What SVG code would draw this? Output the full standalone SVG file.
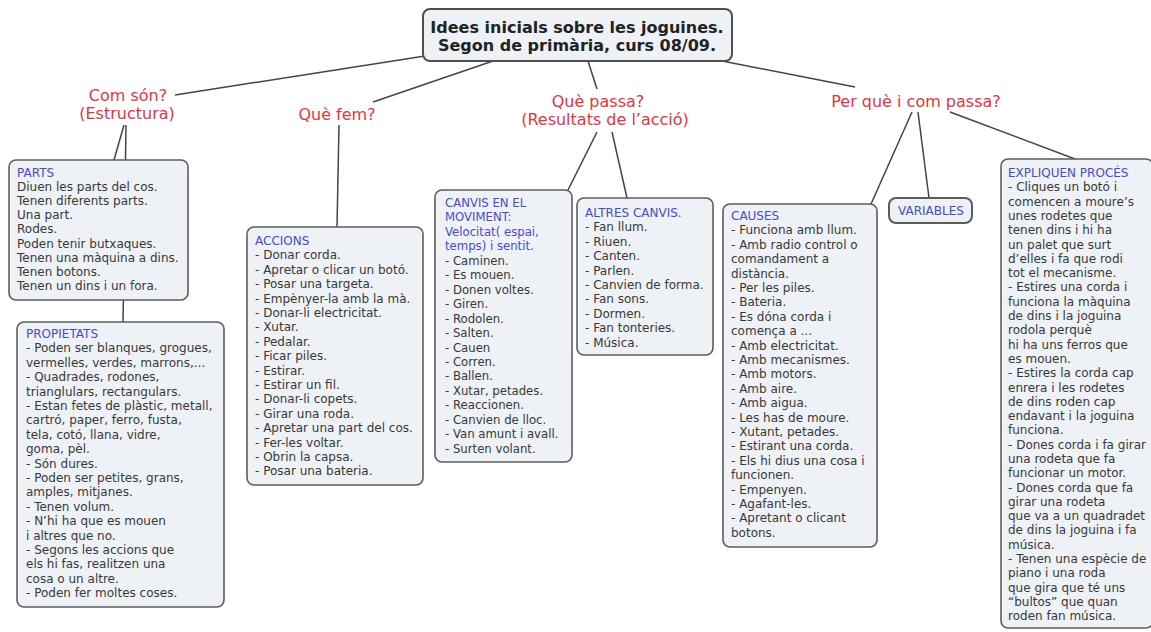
<svg xmlns="http://www.w3.org/2000/svg" width="1151" height="632" viewBox="0 0 1151 632">
<style>
.bg{fill:#ffffff}
.box{fill:#eef2f6;stroke:#5c5c5c;stroke-width:1.6}
.root{fill:#eef2f6;stroke:#505050;stroke-width:2}
.t{font-family:"DejaVu Sans",Verdana,sans-serif;font-size:12px;fill:#383838}
.h{fill:#4a4ac8}
.lab{font-family:"DejaVu Sans",Verdana,sans-serif;font-size:16px;fill:#e2353f;text-anchor:middle}
.rt{font-family:"DejaVu Sans",Verdana,sans-serif;font-size:16px;font-weight:bold;fill:#222222;text-anchor:middle}
.c{stroke:#444444;stroke-width:1.5;fill:none}
</style>
<rect class="bg" x="0" y="0" width="1151" height="632"/>
<g id="connectors">
<line class="c" x1="425" y1="56" x2="175" y2="95"/>
<line class="c" x1="493" y1="61" x2="373" y2="102"/>
<line class="c" x1="588" y1="61" x2="597" y2="89"/>
<line class="c" x1="722" y1="61" x2="855" y2="87"/>
<line class="c" x1="124" y1="125" x2="114" y2="160"/>
<line class="c" x1="126" y1="125" x2="123" y2="322"/>
<line class="c" x1="339" y1="125" x2="337" y2="227"/>
<line class="c" x1="597" y1="132" x2="568" y2="190"/>
<line class="c" x1="612" y1="132" x2="627" y2="198"/>
<line class="c" x1="912" y1="112" x2="871" y2="204"/>
<line class="c" x1="918" y1="112" x2="929" y2="198"/>
<line class="c" x1="950" y1="112" x2="1075" y2="159"/>
</g>
<g id="root">
<rect class="root" x="423" y="9" width="309" height="52" rx="7"/>
<text class="rt" x="577" y="33">Idees inicials sobre les joguines.</text>
<text class="rt" x="577" y="51">Segon de primària, curs 08/09.</text>
</g>
<g id="com-son">
<text class="lab" x="128" y="101">Com són?</text>
<text class="lab" x="127" y="119">(Estructura)</text>
</g>
<g id="que-fem">
<text class="lab" x="337" y="120">Què fem?</text>
</g>
<g id="que-passa">
<text class="lab" x="598" y="107">Què passa?</text>
<text class="lab" x="605" y="125">(Resultats de l’acció)</text>
</g>
<g id="per-que">
<text class="lab" x="916" y="107">Per què i com passa?</text>
</g>
<g id="parts">
<rect class="box" x="9" y="160" width="179" height="140" rx="7"/>
<text class="t" x="17" y="177"><tspan class="h">PARTS</tspan><tspan x="17" dy="14.1">Diuen les parts del cos.</tspan><tspan x="17" dy="14.1">Tenen diferents parts.</tspan><tspan x="17" dy="14.1">Una part.</tspan><tspan x="17" dy="14.1">Rodes.</tspan><tspan x="17" dy="14.1">Poden tenir butxaques.</tspan><tspan x="17" dy="14.1">Tenen una màquina a dins.</tspan><tspan x="17" dy="14.1">Tenen botons.</tspan><tspan x="17" dy="14.1">Tenen un dins i un fora.</tspan></text>
</g>
<g id="propietats">
<rect class="box" x="17" y="322" width="207" height="285" rx="7"/>
<text class="t" x="26" y="338"><tspan class="h">PROPIETATS</tspan><tspan x="26" dy="14.4">- Poden ser blanques, grogues,</tspan><tspan x="26" dy="14.4">vermelles, verdes, marrons,...</tspan><tspan x="26" dy="14.4">- Quadrades, rodones,</tspan><tspan x="26" dy="14.4">trianglulars, rectangulars.</tspan><tspan x="26" dy="14.4">- Estan fetes de plàstic, metall,</tspan><tspan x="26" dy="14.4">cartró, paper, ferro, fusta,</tspan><tspan x="26" dy="14.4">tela, cotó, llana, vidre,</tspan><tspan x="26" dy="14.4">goma, pèl.</tspan><tspan x="26" dy="14.4">- Són dures.</tspan><tspan x="26" dy="14.4">- Poden ser petites, grans,</tspan><tspan x="26" dy="14.4">amples, mitjanes.</tspan><tspan x="26" dy="14.4">- Tenen volum.</tspan><tspan x="26" dy="14.4">- N’hi ha que es mouen</tspan><tspan x="26" dy="14.4">i altres que no.</tspan><tspan x="26" dy="14.4">- Segons les accions que</tspan><tspan x="26" dy="14.4">els hi fas, realitzen una</tspan><tspan x="26" dy="14.4">cosa o un altre.</tspan><tspan x="26" dy="14.4">- Poden fer moltes coses.</tspan></text>
</g>
<g id="accions">
<rect class="box" x="247" y="227" width="176" height="258" rx="7"/>
<text class="t" x="255" y="245"><tspan class="h">ACCIONS</tspan><tspan x="255" dy="14.4">- Donar corda.</tspan><tspan x="255" dy="14.4">- Apretar o clicar un botó.</tspan><tspan x="255" dy="14.4">- Posar una targeta.</tspan><tspan x="255" dy="14.4">- Empènyer-la amb la mà.</tspan><tspan x="255" dy="14.4">- Donar-li electricitat.</tspan><tspan x="255" dy="14.4">- Xutar.</tspan><tspan x="255" dy="14.4">- Pedalar.</tspan><tspan x="255" dy="14.4">- Ficar piles.</tspan><tspan x="255" dy="14.4">- Estirar.</tspan><tspan x="255" dy="14.4">- Estirar un fil.</tspan><tspan x="255" dy="14.4">- Donar-li copets.</tspan><tspan x="255" dy="14.4">- Girar una roda.</tspan><tspan x="255" dy="14.4">- Apretar una part del cos.</tspan><tspan x="255" dy="14.4">- Fer-les voltar.</tspan><tspan x="255" dy="14.4">- Obrin la capsa.</tspan><tspan x="255" dy="14.4">- Posar una bateria.</tspan></text>
</g>
<g id="canvis-moviment">
<rect class="box" x="435" y="190" width="137" height="272" rx="7"/>
<text class="t" x="445" y="207" style="font-size:11.7px"><tspan class="h">CANVIS EN EL</tspan><tspan class="h" x="445" dy="14.45">MOVIMENT:</tspan><tspan class="h" x="445" dy="14.45">Velocitat( espai,</tspan><tspan class="h" x="445" dy="14.45">temps) i sentit.</tspan><tspan x="445" dy="14.45">- Caminen.</tspan><tspan x="445" dy="14.45">- Es mouen.</tspan><tspan x="445" dy="14.45">- Donen voltes.</tspan><tspan x="445" dy="14.45">- Giren.</tspan><tspan x="445" dy="14.45">- Rodolen.</tspan><tspan x="445" dy="14.45">- Salten.</tspan><tspan x="445" dy="14.45">- Cauen</tspan><tspan x="445" dy="14.45">- Corren.</tspan><tspan x="445" dy="14.45">- Ballen.</tspan><tspan x="445" dy="14.45">- Xutar, petades.</tspan><tspan x="445" dy="14.45">- Reaccionen.</tspan><tspan x="445" dy="14.45">- Canvien de lloc.</tspan><tspan x="445" dy="14.45">- Van amunt i avall.</tspan><tspan x="445" dy="14.45">- Surten volant.</tspan></text>
</g>
<g id="altres-canvis">
<rect class="box" x="577" y="198" width="136" height="157" rx="7"/>
<text class="t" x="585" y="217"><tspan class="h">ALTRES CANVIS.</tspan><tspan x="585" dy="14.4">- Fan llum.</tspan><tspan x="585" dy="14.4">- Riuen.</tspan><tspan x="585" dy="14.4">- Canten.</tspan><tspan x="585" dy="14.4">- Parlen.</tspan><tspan x="585" dy="14.4">- Canvien de forma.</tspan><tspan x="585" dy="14.4">- Fan sons.</tspan><tspan x="585" dy="14.4">- Dormen.</tspan><tspan x="585" dy="14.4">- Fan tonteries.</tspan><tspan x="585" dy="14.4">- Música.</tspan></text>
</g>
<g id="causes">
<rect class="box" x="723" y="204" width="154" height="343" rx="7"/>
<text class="t" x="731" y="220"><tspan class="h">CAUSES</tspan><tspan x="731" dy="14.4">- Funciona amb llum.</tspan><tspan x="731" dy="14.4">- Amb radio control o</tspan><tspan x="731" dy="14.4">comandament a</tspan><tspan x="731" dy="14.4">distància.</tspan><tspan x="731" dy="14.4">- Per les piles.</tspan><tspan x="731" dy="14.4">- Bateria.</tspan><tspan x="731" dy="14.4">- Es dóna corda i</tspan><tspan x="731" dy="14.4">comença a ...</tspan><tspan x="731" dy="14.4">- Amb electricitat.</tspan><tspan x="731" dy="14.4">- Amb mecanismes.</tspan><tspan x="731" dy="14.4">- Amb motors.</tspan><tspan x="731" dy="14.4">- Amb aire.</tspan><tspan x="731" dy="14.4">- Amb aigua.</tspan><tspan x="731" dy="14.4">- Les has de moure.</tspan><tspan x="731" dy="14.4">- Xutant, petades.</tspan><tspan x="731" dy="14.4">- Estirant una corda.</tspan><tspan x="731" dy="14.4">- Els hi dius una cosa i</tspan><tspan x="731" dy="14.4">funcionen.</tspan><tspan x="731" dy="14.4">- Empenyen.</tspan><tspan x="731" dy="14.4">- Agafant-les.</tspan><tspan x="731" dy="14.4">- Apretant o clicant</tspan><tspan x="731" dy="14.4">botons.</tspan></text>
</g>
<g id="variables">
<rect class="box" x="889" y="198" width="83" height="25" rx="7" style="stroke-width:2"/>
<text class="t h" x="898" y="215">VARIABLES</text>
</g>
<g id="expliquen">
<rect class="box" x="1001" y="159" width="152" height="469" rx="7"/>
<text class="t" x="1008" y="177"><tspan class="h">EXPLIQUEN PROCÉS</tspan><tspan x="1008" dy="14.3">- Cliques un botó i</tspan><tspan x="1008" dy="14.3">comencen a moure’s</tspan><tspan x="1008" dy="14.3">unes rodetes que</tspan><tspan x="1008" dy="14.3">tenen dins i hi ha</tspan><tspan x="1008" dy="14.3">un palet que surt</tspan><tspan x="1008" dy="14.3">d’elles i fa que rodi</tspan><tspan x="1008" dy="14.3">tot el mecanisme.</tspan><tspan x="1008" dy="14.3">- Estires una corda i</tspan><tspan x="1008" dy="14.3">funciona la màquina</tspan><tspan x="1008" dy="14.3">de dins i la joguina</tspan><tspan x="1008" dy="14.3">rodola perquè</tspan><tspan x="1008" dy="14.3">hi ha uns ferros que</tspan><tspan x="1008" dy="14.3">es mouen.</tspan><tspan x="1008" dy="14.3">- Estires la corda cap</tspan><tspan x="1008" dy="14.3">enrera i les rodetes</tspan><tspan x="1008" dy="14.3">de dins roden cap</tspan><tspan x="1008" dy="14.3">endavant i la joguina</tspan><tspan x="1008" dy="14.3">funciona.</tspan><tspan x="1008" dy="14.3">- Dones corda i fa girar</tspan><tspan x="1008" dy="14.3">una rodeta que fa</tspan><tspan x="1008" dy="14.3">funcionar un motor.</tspan><tspan x="1008" dy="14.3">- Dones corda que fa</tspan><tspan x="1008" dy="14.3">girar una rodeta</tspan><tspan x="1008" dy="14.3">que va a un quadradet</tspan><tspan x="1008" dy="14.3">de dins la joguina i fa</tspan><tspan x="1008" dy="14.3">música.</tspan><tspan x="1008" dy="14.3">- Tenen una espècie de</tspan><tspan x="1008" dy="14.3">piano i una roda</tspan><tspan x="1008" dy="14.3">que gira que té uns</tspan><tspan x="1008" dy="14.3">“bultos” que quan</tspan><tspan x="1008" dy="14.3">roden fan música.</tspan></text>
</g>
</svg>
